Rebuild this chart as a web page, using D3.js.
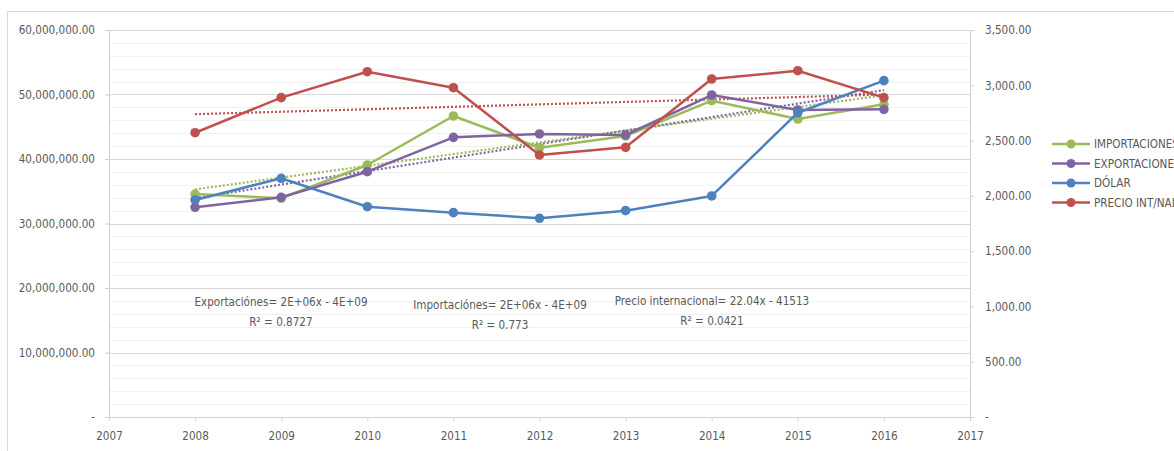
<!DOCTYPE html>
<html>
<head>
<meta charset="utf-8">
<script src="https://cdn.jsdelivr.net/npm/d3@7"></script>
<style>
  body { margin: 0; background: #fff; overflow: hidden; }
  svg text { font-family: "Liberation Sans Narrow", "DejaVu Sans Condensed", sans-serif; font-size: 11.6px; fill: #595959; }
</style>
</head>
<body>
<div id="app"></div>
<script>
// values
const years = [2008, 2009, 2010, 2011, 2012, 2013, 2014, 2015, 2016];
const importaciones = [34570000, 33910000, 39070000, 46670000, 41750000, 43570000, 49040000, 46200000, 48480000];
const exportaciones = [32510000, 34060000, 38030000, 43360000, 43880000, 43720000, 49920000, 47600000, 47700000];
const dolar = [1963, 2159, 1902, 1848, 1797, 1866, 1999, 2752, 3042];
const precio = [2571, 2888, 3123, 2978, 2370, 2439, 3057, 3132, 2888];

const yearTicks = [2007, 2008, 2009, 2010, 2011, 2012, 2013, 2014, 2015, 2016, 2017];
const leftTicks = [0, 10000000, 20000000, 30000000, 40000000, 50000000, 60000000];
const rightTicks = [0, 500, 1000, 1500, 2000, 2500, 3000, 3500];
const legendNames = ["IMPORTACIONES", "EXPORTACIONES", "DÓLAR", "PRECIO INT/NAL"];
const equations = [
    ["Exportaciónes= 2E+06x - 4E+09", "R² = 0.8727"],
    ["Importaciónes= 2E+06x - 4E+09", "R² = 0.773"],
    ["Precio internacional= 22.04x - 41513", "R² = 0.0421"]
];

const width = 1174,
      height = 451;

const colors = {
    imp: "#9bbb59",
    exp: "#8064a2",
    dol: "#4f81bd",
    pre: "#c0504d"
};

const x = d3.scaleLinear().domain([2007, 2017]).range([109, 970]);
const yLeft = d3.scaleLinear().domain([0, 60000000]).range([417, 30]);
const yRight = d3.scaleLinear().domain([0, 3500]).range([417, 30]);

const fmt = d3.format(",.2f");
const tickLabel = (v) => v === 0 ? "-" : fmt(v);

// least squares fit, like the excel trendline
const linearFit = (xs, ys) => {
    const mx = d3.mean(xs), my = d3.mean(ys);
    const slope = d3.sum(xs, (d, i) => (d - mx) * (ys[i] - my)) / d3.sum(xs, d => (d - mx) * (d - mx));
    return (v) => my + slope * (v - mx);
};

const svg = d3.select("#app").append("svg")
    .attr("width", width)
    .attr("height", height);

// chart frame
svg.append("rect")
    .attr("x", 7.5).attr("y", 11.5)
    .attr("width", width).attr("height", height)
    .attr("fill", "none")
    .attr("stroke", "#d9d9d9");

// minor + major gridlines
const minor = d3.range(0, 60000001, 2000000).filter(v => v % 10000000 !== 0);
svg.append("g").selectAll("line").data(minor).join("line")
    .attr("x1", x(2007)).attr("x2", x(2017))
    .attr("y1", d => Math.round(yLeft(d)) + 0.5).attr("y2", d => Math.round(yLeft(d)) + 0.5)
    .attr("stroke", "#f0f0f0");
svg.append("g").selectAll("line").data(leftTicks.slice(1)).join("line")
    .attr("x1", x(2007)).attr("x2", x(2017))
    .attr("y1", d => Math.round(yLeft(d)) + 0.5).attr("y2", d => Math.round(yLeft(d)) + 0.5)
    .attr("stroke", "#d9d9d9");

const styleAxis = (g) => {
    g.selectAll(".domain").attr("stroke", "#d0d0d0");
    g.selectAll(".tick line").attr("stroke", "#d0d0d0");
    g.selectAll(".tick text").attr("fill", "#595959").style("font-size", "11.6px")
        .style("font-family", "\"Liberation Sans Narrow\", \"DejaVu Sans Condensed\", sans-serif");
};

svg.append("g")
    .attr("transform", "translate(" + x(2007) + ",0)")
    .call(d3.axisLeft(yLeft).tickValues(leftTicks).tickFormat(tickLabel).tickSize(4).tickSizeOuter(0).tickPadding(10))
    .call(styleAxis);

svg.append("g")
    .attr("transform", "translate(" + x(2017) + ",0)")
    .call(d3.axisRight(yRight).tickValues(rightTicks).tickFormat(tickLabel).tickSize(4).tickSizeOuter(0).tickPadding(11))
    .call(styleAxis);

svg.append("g")
    .attr("transform", "translate(0," + yLeft(0) + ")")
    .call(d3.axisBottom(x).tickValues(yearTicks).tickFormat(d3.format("d")).tickSize(4).tickSizeOuter(0).tickPadding(11))
    .call(styleAxis);

// trendlines
const trend = (vals, yScale, color) => {
    const f = linearFit(years, vals);
    svg.append("line")
        .attr("x1", x(years[0])).attr("x2", x(years[years.length - 1]))
        .attr("y1", yScale(f(years[0]))).attr("y2", yScale(f(years[years.length - 1])))
        .attr("stroke", color)
        .attr("stroke-width", 2.2)
        .attr("stroke-dasharray", "2,2");
};

trend(importaciones, yLeft, colors.imp);
trend(exportaciones, yLeft, colors.exp);
trend(precio, yRight, colors.pre);

// series
const drawSeries = (vals, yScale, color) => {
    const line = d3.line().x((d, i) => x(years[i])).y(d => yScale(d));
    svg.append("path")
        .datum(vals)
        .attr("d", line)
        .attr("fill", "none")
        .attr("stroke", color)
        .attr("stroke-width", 2.5)
        .attr("stroke-linejoin", "round");
    svg.append("g").selectAll("circle").data(vals).join("circle")
        .attr("cx", (d, i) => x(years[i]))
        .attr("cy", d => yScale(d))
        .attr("r", 4.8)
        .attr("fill", color);
};

drawSeries(importaciones, yLeft, colors.imp);
drawSeries(exportaciones, yLeft, colors.exp);
drawSeries(dolar, yRight, colors.dol);
drawSeries(precio, yRight, colors.pre);

// equation labels
const eqPos = [[281, 302], [500, 305], [712, 301]];
equations.forEach((lines, i) => {
    const t = svg.append("text")
        .attr("text-anchor", "middle")
        .attr("x", eqPos[i][0])
        .attr("y", eqPos[i][1] + 4);
    t.append("tspan").attr("x", eqPos[i][0]).text(lines[0]);
    t.append("tspan").attr("x", eqPos[i][0]).attr("dy", 20).text(lines[1]);
});

// legend
const legendColors = [colors.imp, colors.exp, colors.dol, colors.pre];
const legend = svg.append("g").attr("transform", "translate(1052,144)");
legendNames.forEach((name, i) => {
    const row = legend.append("g").attr("transform", "translate(0," + (i * 19.5) + ")");
    row.append("line").attr("x1", 0).attr("x2", 38).attr("stroke", legendColors[i]).attr("stroke-width", 2.5);
    row.append("circle").attr("cx", 19).attr("r", 4.5).attr("fill", legendColors[i]);
    row.append("text").attr("x", 42).attr("dy", "0.35em").text(name);
});
</script>
</body>
</html>
